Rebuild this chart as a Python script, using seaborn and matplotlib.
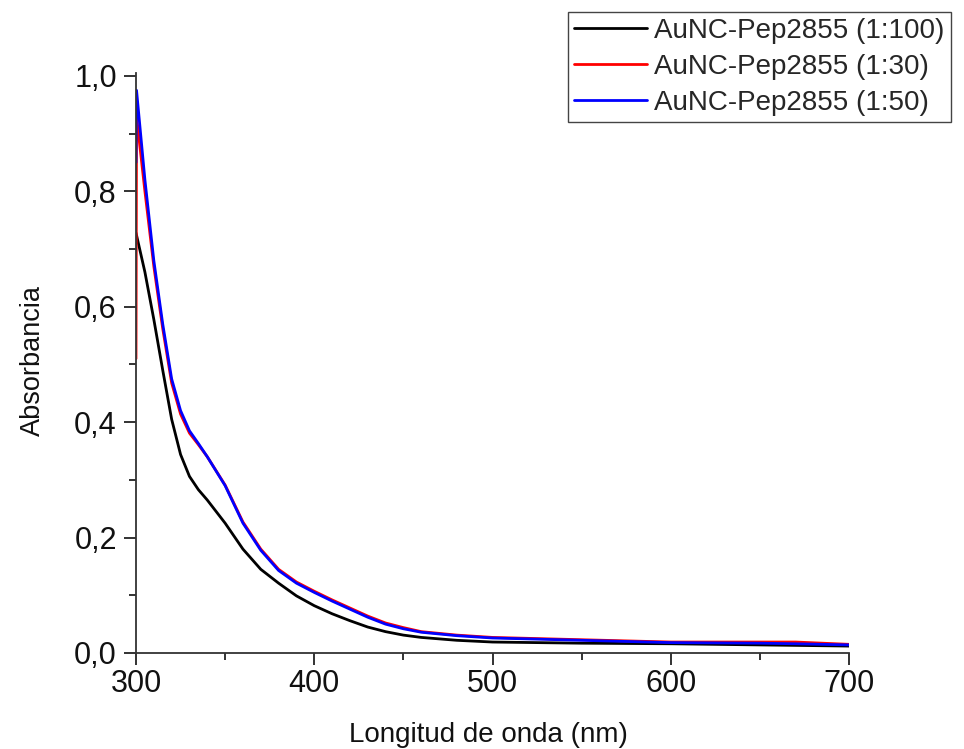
import matplotlib
matplotlib.use("Agg")
import matplotlib.pyplot as plt
from matplotlib.ticker import FixedLocator, FixedFormatter, MultipleLocator
from matplotlib.lines import Line2D
import seaborn as sns
import pandas as pd

# ---- data ----
wl_black = [300, 305, 310, 315, 320, 325, 330, 335, 340, 350, 360, 370, 380, 390,
            400, 410, 420, 430, 440, 450, 460, 480, 500, 550, 600, 650, 700]
abs_black = [0.728, 0.66, 0.578, 0.49, 0.405, 0.344, 0.306, 0.283, 0.265, 0.225,
             0.18, 0.145, 0.121, 0.099, 0.082, 0.068, 0.056, 0.045, 0.037, 0.031,
             0.027, 0.022, 0.019, 0.017, 0.016, 0.014, 0.012]

wl_red = [300, 300.3, 305, 310, 315, 320, 325, 330, 335, 340, 350, 360, 370, 380,
          390, 400, 410, 420, 430, 440, 450, 460, 480, 500, 550, 600, 650, 670, 700]
abs_red = [0.51, 0.93, 0.80, 0.67, 0.562, 0.468, 0.414, 0.381, 0.361, 0.34, 0.291,
           0.227, 0.18, 0.145, 0.123, 0.107, 0.092, 0.078, 0.064, 0.052, 0.044,
           0.037, 0.031, 0.027, 0.023, 0.019, 0.019, 0.019, 0.015]

wl_blue = [300, 300.3, 305, 310, 315, 320, 325, 330, 335, 340, 350, 360, 370, 380,
           390, 400, 410, 420, 430, 440, 450, 460, 480, 500, 550, 600, 650, 670, 700]
abs_blue = [0.85, 0.975, 0.82, 0.68, 0.57, 0.475, 0.42, 0.385, 0.363, 0.34, 0.29,
            0.225, 0.178, 0.143, 0.121, 0.105, 0.09, 0.076, 0.062, 0.05, 0.042,
            0.036, 0.030, 0.026, 0.022, 0.018, 0.017, 0.016, 0.014]

series_names = ["AuNC-Pep2855 (1:100)", "AuNC-Pep2855 (1:30)", "AuNC-Pep2855 (1:50)"]
series_colors = ["#000000", "#ff0000", "#0000ff"]

x_ticks = [300, 400, 500, 600, 700]
x_tick_labels = ["300", "400", "500", "600", "700"]
y_ticks = [0.0, 0.2, 0.4, 0.6, 0.8, 1.0]
y_tick_labels = ["0,0", "0,2", "0,4", "0,6", "0,8", "1,0"]

x_label = "Longitud de onda (nm)"
y_label = "Absorbancia"

# ---- build long table ----
frames = []
for name, wl, ab in zip(series_names, [wl_black, wl_red, wl_blue],
                        [abs_black, abs_red, abs_blue]):
    frames.append(pd.DataFrame({"wl": wl, "abs": ab, "serie": name}))
df = pd.concat(frames, ignore_index=True)

sns.set_theme(style="ticks")
plt.rcParams["font.family"] = ["Liberation Sans", "DejaVu Sans"]

fig = plt.figure(figsize=(9.64, 7.49), dpi=100)
ax = fig.add_axes([136 / 964, 1 - 653 / 749, (849 - 136) / 964, (653 - 73) / 749])

sns.lineplot(data=df, x="wl", y="abs", hue="serie", hue_order=series_names,
             palette=dict(zip(series_names, series_colors)), linewidth=2.0,
             estimator=None, sort=False, ax=ax, legend=False)

ax.set_xlim(300, 700)
ax.set_ylim(0, 1.005)

ax.xaxis.set_major_locator(FixedLocator(x_ticks))
ax.xaxis.set_major_formatter(FixedFormatter(x_tick_labels))
ax.xaxis.set_minor_locator(MultipleLocator(50))
ax.yaxis.set_major_locator(FixedLocator(y_ticks))
ax.yaxis.set_major_formatter(FixedFormatter(y_tick_labels))
ax.yaxis.set_minor_locator(MultipleLocator(0.1))

ax.tick_params(which="major", direction="out", length=8.3, width=1.3,
               labelsize=22, colors="#222222", labelcolor="#111111")
ax.tick_params(which="minor", direction="out", length=4.7, width=1.3, colors="#222222")
ax.tick_params(axis="y", which="major", pad=5.5)
ax.tick_params(axis="x", which="major", pad=3.5)

for s in ["top", "right"]:
    ax.spines[s].set_visible(False)
for s in ["left", "bottom"]:
    ax.spines[s].set_linewidth(1.3)
    ax.spines[s].set_color("#333333")

ax.set_xlabel(x_label, fontsize=20, color="#111111")
ax.set_ylabel(y_label, fontsize=19.5, color="#111111")
ax.xaxis.set_label_coords(0.494, -(722 - 653) / 580)
ax.yaxis.set_label_coords(-(136 - 46) / 713, 0.505)

handles = [Line2D([], [], color=c, linewidth=2.0) for c in series_colors]
leg = fig.legend(handles, series_names, loc="upper left",
                 bbox_to_anchor=(568 / 964, 1 - 12 / 749), borderaxespad=0,
                 fontsize=20, frameon=True, fancybox=False, framealpha=1,
                 edgecolor="#444444", handlelength=2.63, handletextpad=0.25,
                 labelspacing=0.36, borderpad=0.22)
leg.get_frame().set_linewidth(1.0)

fig.savefig("out.png", dpi=100)
